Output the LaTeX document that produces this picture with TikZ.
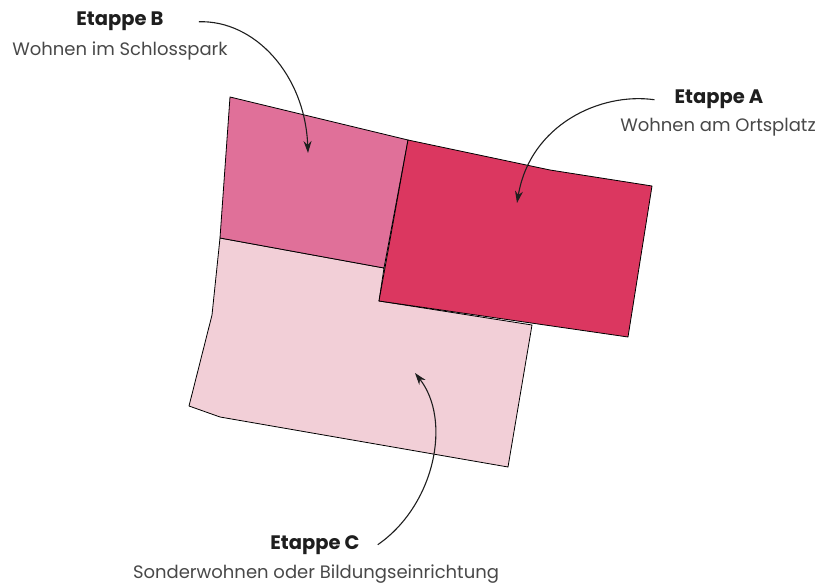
\documentclass[tikz,border=0pt]{standalone}
\usepackage{fontspec}
\setmainfont{Poppins}
\usetikzlibrary{arrows.meta}

\definecolor{etappeA}{HTML}{DB3760}
\definecolor{etappeB}{HTML}{E07099}
\definecolor{etappeC}{HTML}{F2CFD7}
\definecolor{titlegray}{HTML}{1E1E1E}
\definecolor{subgray}{HTML}{484848}

\tikzset{
  lot/.style={draw=black, line width=0.8pt, line join=round},
  title/.style={font=\bfseries\fontsize{19.5}{22}\selectfont, text=titlegray, inner sep=0pt},
  subtitle/.style={font=\fontsize{18}{21}\selectfont, text=subgray, inner sep=0pt},
  pointer/.style={-{Stealth[length=12pt,width=8pt]}, line width=1.1pt, draw=titlegray},
}

\begin{document}
\begin{tikzpicture}[x=1pt,y=-1pt]
  \useasboundingbox (0,0) rectangle (821,585);

  % Draw the three lots, C first so the others sit on top
  \draw[lot, fill=etappeC] (220,238) -- (384,268) -- (379,301) -- (532,325) -- (508,467)
    -- (220,417) -- (189,406) -- (212,315) -- cycle;
  \draw[lot, fill=etappeB] (230,97) -- (408,140) -- (384,268) -- (220,238) -- cycle;
  \draw[lot, fill=etappeA] (408,140) -- (550,170) -- (652,186) -- (628,337) -- (379,301) -- cycle;

  % Labels for the stages
  \node[title, anchor=base] (titleB) at (120,26) {Etappe B};
  \node[subtitle, anchor=base] (subB) at (120,56) {Wohnen im Schlosspark};
  \node[title, anchor=base] (titleA) at (719,104) {Etappe A};
  \node[subtitle, anchor=base] (subA) at (718,132) {Wohnen am Ortsplatz};
  \node[title, anchor=base] (titleC) at (315,549) {Etappe C};
  \node[subtitle, anchor=base] (subC) at (316,578) {Sonderwohnen oder Bildungseinrichtung};

  % Arrow ends inside the lots
  \coordinate (tipB) at (308,153);
  \coordinate (tipA) at (517,203);
  \coordinate (tipC) at (415,373);

  % Arrows from the labels into the lots
  \draw[pointer] ([xshift=35pt]titleB.east) .. controls (255,20) and (305,75) .. (tipB);
  \draw[pointer] ([xshift=-20pt]titleA.west) .. controls (600,92) and (530,125) .. (tipA);
  \draw[pointer] ([xshift=18pt]titleC.east) .. controls (435,505) and (452,420) .. (tipC);
\end{tikzpicture}
\end{document}
